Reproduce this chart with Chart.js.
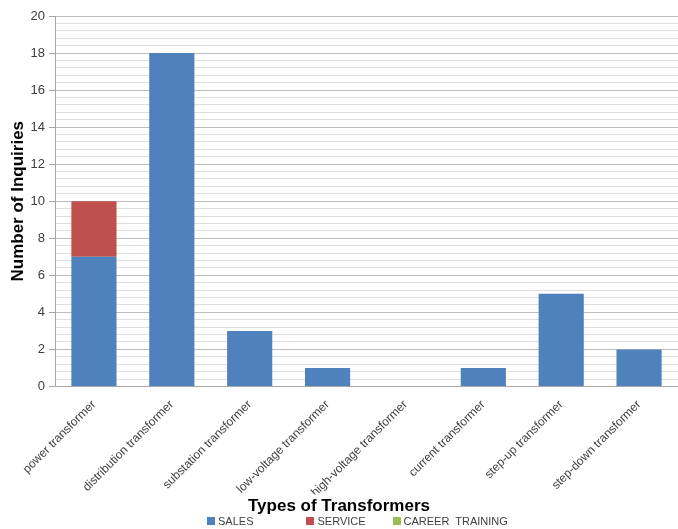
<!DOCTYPE html>
<html>
<head>
<meta charset="utf-8">
<style>
  html, body { margin: 0; padding: 0; background: #ffffff; }
  #wrap { position: relative; width: 678px; height: 529px; }
  #legend {
    position: absolute; left: 207px; top: 515px;
    margin: 0; padding: 0; list-style: none;
    display: flex; flex-direction: row; align-items: center;
    font-family: "Liberation Sans", Arial, sans-serif; font-size: 11px; color: #404040;
    line-height: 12px; white-space: pre;
  }
  #legend li { display: flex; align-items: center; }
  #legend li:nth-child(1) { margin-right: 53px; }
  #legend li:nth-child(2) { margin-right: 27px; }
  #legend .box { display: inline-block; width: 8px; height: 8px; margin-right: 3px; }
</style>
<script src="https://cdn.jsdelivr.net/npm/chart.js@4/dist/chart.umd.min.js"></script>
</head>
<body>
<div id="wrap">
  <canvas id="chart" width="678" height="529"></canvas>
  <ul id="legend"></ul>
</div>
<script>
// Inquiries per transformer type, split by department
const categories = [
  'power transformer',
  'distribution transformer',
  'substation transformer',
  'low-voltage transformer',
  'high-voltage transformer',
  'current transformer',
  'step-up transformer',
  'step-down transformer'
];
const sales          = [7, 18, 3, 1, 0, 1, 5, 2];
const service        = [3, 0, 0, 0, 0, 0, 0, 0];
const careerTraining = [0, 0, 0, 0, 0, 0, 0, 0];

const yMin = 0;
const yMax = 20;
const yMajorStep = 2;
const yMinorStep = 0.4;

const FONT = '"Liberation Sans", Arial, sans-serif';
const isMajor = v => Math.abs(v / yMajorStep - Math.round(v / yMajorStep)) < 1e-6;

// HTML legend built from the chart's own legend items
const htmlLegendPlugin = {
  id: 'htmlLegend',
  afterUpdate(chart) {
    const list = document.getElementById('legend');
    while (list.firstChild) list.firstChild.remove();
    const items = chart.options.plugins.legend.labels.generateLabels(chart);
    items.forEach(item => {
      const li = document.createElement('li');
      const box = document.createElement('span');
      box.className = 'box';
      box.style.background = item.fillStyle;
      const text = document.createElement('span');
      text.textContent = item.text;
      li.appendChild(box);
      li.appendChild(text);
      list.appendChild(li);
    });
  }
};

new Chart(document.getElementById('chart'), {
  type: 'bar',
  data: {
    labels: categories,
    datasets: [
      { label: 'SALES', data: sales, backgroundColor: '#4f81bd' },
      { label: 'SERVICE', data: service, backgroundColor: '#c0504d' },
      { label: 'CAREER  TRAINING', data: careerTraining, backgroundColor: '#9bbb59' }
    ]
  },
  plugins: [htmlLegendPlugin],
  options: {
    responsive: false,
    animation: false,
    devicePixelRatio: 1,
    layout: { padding: { top: 16, right: 0, left: 0, bottom: 10 } },
    datasets: {
      bar: { categoryPercentage: 1.0, barPercentage: 0.58, borderWidth: 0 }
    },
    scales: {
      x: {
        stacked: true,
        afterFit: scale => { scale.height -= 16; },
        grid: { display: false, drawTicks: false },
        border: { display: true, color: '#a6a6a6', width: 1 },
        ticks: {
          autoSkip: false,
          maxRotation: 45,
          minRotation: 45,
          padding: 11,
          color: '#404040',
          font: { family: FONT, size: 12 }
        }
      },
      y: {
        stacked: true,
        min: yMin,
        max: yMax,
        afterFit: scale => { scale.width = 55; },
        grid: {
          color: ctx => isMajor(ctx.tick.value) ? '#bdbdbd' : '#dedede',
          tickColor: ctx => isMajor(ctx.tick.value) ? '#a6a6a6' : 'rgba(0,0,0,0)',
          tickLength: 6,
          lineWidth: 1
        },
        border: { display: true, color: '#a6a6a6', width: 1 },
        ticks: {
          stepSize: yMinorStep,
          autoSkip: false,
          padding: 4,
          color: '#404040',
          font: { family: FONT, size: 13 },
          callback: v => isMajor(v) ? String(Math.round(v)) : ''
        },
        title: {
          display: true,
          text: 'Number of Inquiries',
          color: '#000000',
          padding: { top: 8, bottom: 0 },
          font: { family: FONT, size: 17, weight: 'bold' }
        }
      }
    },
    plugins: {
      tooltip: { enabled: false },
      legend: { display: false },
      title: {
        display: true,
        position: 'bottom',
        text: 'Types of Transformers',
        color: '#000000',
        padding: { top: 2, bottom: 2 },
        font: { family: FONT, size: 17, weight: 'bold' }
      }
    }
  }
});
</script>
</body>
</html>
